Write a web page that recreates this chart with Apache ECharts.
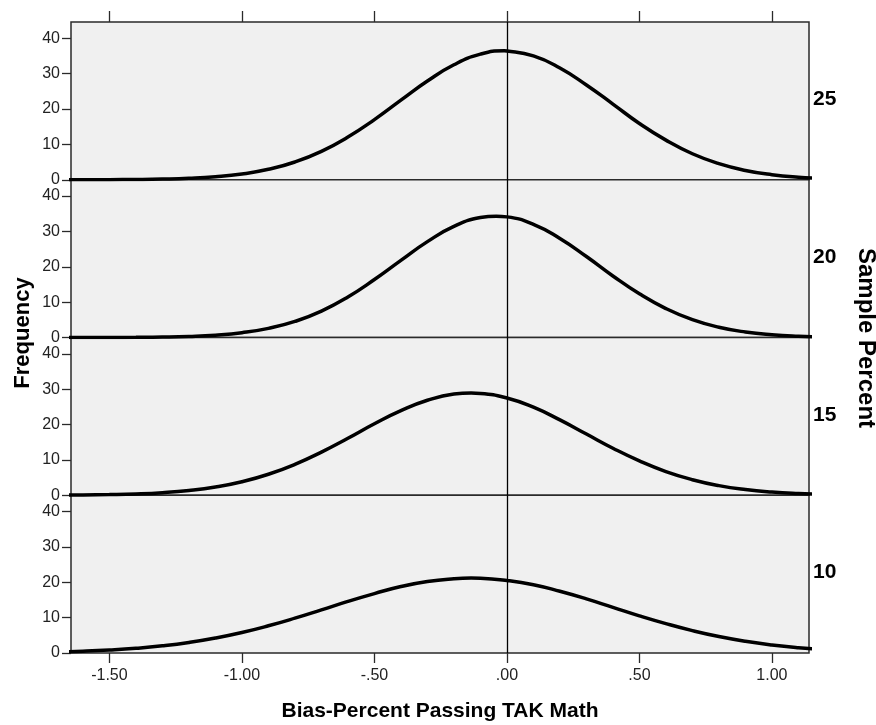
<!DOCTYPE html>
<html>
<head>
<meta charset="utf-8">
<script src="https://cdn.jsdelivr.net/npm/echarts@6/dist/echarts.min.js"></script>
<style>html,body{margin:0;padding:0;background:#fff;}#c{width:876px;height:725px;}</style>
</head>
<body>
<div id="c"></div>
<script>
var xValues = [-1.7,-1.6,-1.5,-1.4,-1.3,-1.2,-1.1,-1.0,-0.9,-0.8,-0.7,-0.6,-0.5,-0.4,-0.3,-0.2,-0.1,0.0,0.1,0.2,0.3,0.4,0.5,0.6,0.7,0.8,0.9,1.0,1.1,1.2];
var panelLabels = ['25','20','15','10'];
var freq25 = [0.004,0.012,0.032,0.079,0.19,0.41,0.84,1.62,2.95,5.02,8.04,12.07,17.0,22.5,27.9,32.5,35.5,36.4,35.0,31.6,26.8,21.4,15.9,11.2,7.35,4.54,2.63,1.43,0.73,0.35];
var freq20 = [0.002,0.007,0.02,0.053,0.13,0.31,0.67,1.36,2.58,4.54,7.47,11.46,16.4,21.8,27.1,31.4,33.9,34.1,32.0,28.0,22.9,17.4,12.35,8.18,5.04,2.91,1.56,0.78,0.36,0.16];
var freq15 = [0.038,0.087,0.19,0.38,0.74,1.35,2.33,3.82,5.94,8.74,12.2,16.1,20.2,23.9,26.85,28.6,28.8,27.5,24.9,21.3,17.3,13.3,9.71,6.70,4.39,2.72,1.60,0.89,0.47,0.23];
var freq10 = [0.30,0.51,0.84,1.32,2.02,2.97,4.22,5.79,7.69,9.85,12.2,14.6,16.8,18.8,20.2,21.0,21.15,20.5,19.3,17.45,15.3,12.9,10.5,8.30,6.33,4.66,3.31,2.27,1.50,0.96];
var peakX = [-0.01, -0.04, -0.135, -0.135];
var peakY = [36.45, 34.3, 28.9, 21.2];
var xTicks = [-1.5,-1.0,-0.5,0.0,0.5,1.0];
var yTicks = [0,10,20,30,40];
var xTitle = 'Bias-Percent Passing TAK Math';
var yTitle = 'Frequency';
var panelTitle = 'Sample Percent';

var seriesData = [freq25, freq20, freq15, freq10];
var X_MIN = -1.645, X_MAX = 1.14, Y_MAX = 44.6;
var tops = [22, 179.75, 337.5, 495.25];
var H = 157.75;

function fmtX(v){
  var s = Number(v).toFixed(2);
  return s.replace(/^(-?)0\./, '$1.');
}

var grids = [], xAxes = [], yAxes = [], series = [], graphics = [];
for (var i = 0; i < 4; i++) {
  grids.push({left:71, right:67, top:tops[i], height:H, show:true, backgroundColor:'#f0f0f0', borderColor:'#2a2a2a', borderWidth:1.5, containLabel:false});
  var isTop = i === 0, isBottom = i === 3;
  xAxes.push({
    type:'value', gridIndex:i, min:X_MIN, max:X_MAX,
    position: isTop ? 'top' : 'bottom',
    axisLine:{show:false, onZero:false},
    splitLine:{show:false},
    axisTick:{show: isTop || isBottom, length: isTop ? 11 : 10, customValues:xTicks, lineStyle:{color:'#2a2a2a', width:1.3}},
    axisLabel:{show: isBottom, customValues:xTicks, formatter:fmtX, margin:15, color:'#222', fontSize:16, fontFamily:'Liberation Sans'}
  });
  yAxes.push({
    type:'value', gridIndex:i, min:0, max:Y_MAX,
    position:'left',
    axisLine:{show:false, onZero:false},
    splitLine:{show:false},
    axisTick:{show:true, length:9, customValues:yTicks, lineStyle:{color:'#2a2a2a', width:1.3}},
    axisLabel:{customValues:yTicks, margin:11, color:'#222', fontSize:16, fontFamily:'Liberation Sans', padding:[5,0,0,0]}
  });
  var pts = xValues.map(function(x, k){ return [x, seriesData[i][k]]; });
  pts.push([peakX[i], peakY[i]]);
  pts.sort(function(a, b){ return a[0] - b[0]; });
  series.push({
    type:'line', xAxisIndex:i, yAxisIndex:i, smooth:true, showSymbol:false, clip:true,
    data: pts,
    lineStyle:{color:'#000', width:3.5},
    z:3,
    markLine:{silent:true, symbol:['none','none'], label:{show:false}, lineStyle:{color:'#000', width:1.3, type:'solid'}, data:[{xAxis:0}], z:2}
  });
  graphics.push({type:'text', left:813, top:tops[i] + H/2 - 12, style:{text:panelLabels[i], font:'bold 21px "Liberation Sans"', fill:'#000'}});
}
graphics.push({type:'text', x:23, y:333, rotation:Math.PI/2, style:{text:yTitle, font:'bold 22px "Liberation Sans"', fill:'#000', align:'center', verticalAlign:'middle'}});
graphics.push({type:'text', x:866, y:338, rotation:-Math.PI/2, style:{text:panelTitle, font:'bold 24px "Liberation Sans"', fill:'#000', align:'center', verticalAlign:'middle'}});
graphics.push({type:'text', x:440, y:711, style:{text:xTitle, font:'bold 21px "Liberation Sans"', fill:'#000', align:'center', verticalAlign:'middle'}});

var chart = echarts.init(document.getElementById('c'), null, {renderer:'canvas'});
chart.setOption({
  animation:false,
  backgroundColor:'#fff',
  grid:grids, xAxis:xAxes, yAxis:yAxes, series:series, graphic:graphics
});
</script>
</body>
</html>
